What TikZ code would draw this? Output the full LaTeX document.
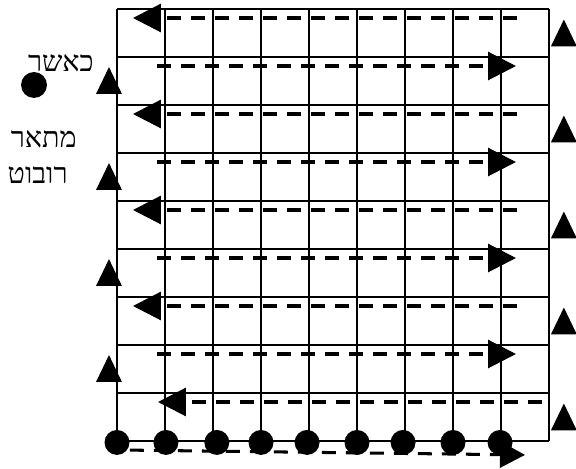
\documentclass[tikz,border=0pt]{standalone}
\usepackage{fontspec}
\newfontfamily\hebfont[Script=Hebrew]{Liberation Serif}
\TeXXeTstate=1
\usetikzlibrary{arrows.meta}

\tikzset{
  gridline/.style={line width=1.2pt},
  dashrow/.style={line width=1.8pt,dash pattern=on 0.29cm off 0.21cm,
    -{Triangle[length=0.58cm,width=0.58cm]}},
  heblabel/.style={inner sep=0pt,anchor=base east,
    font=\hebfont\fontsize{17}{20}\selectfont}
}

\begin{document}
\begin{tikzpicture}
\useasboundingbox (-2.4375,-0.5833) rectangle (9.5625,9.1875);
\newcommand{\TriHalf}{0.27}
\newcommand{\UpTri}[3]{\fill (#1-\TriHalf,#2) -- (#1+\TriHalf,#2) -- (#1,#3) -- cycle;}

% board
\draw[gridline] (0,0) grid (9,9);

% sweeps to the left
\foreach \j in {8,6,4,2} {
  \coordinate (LS\j) at (8.333,\j+0.8125);
  \coordinate (LE\j) at (0.333,\j+0.8125);
  \draw[dashrow] (LS\j) -- (LE\j);
}
\coordinate (LS0) at (8.854,0.8125);
\coordinate (LE0) at (0.854,0.8125);
\draw[dashrow] (LS0) -- (LE0);

% sweeps to the right
\foreach \j in {7,5,3,1} {
  \coordinate (RS\j) at (0.833,\j+0.8125);
  \coordinate (RE\j) at (8.3125,\j+0.8125);
  \draw[dashrow] (RS\j) -- (RE\j);
}

% return path under the board
\coordinate (BS) at (0.27,-0.19);
\coordinate (BE) at (8.5,-0.29);
\draw[line width=1.8pt,dash pattern=on 0.29cm off 0.21cm,
  -{Triangle[length=0.52cm,width=0.54cm]}] (BS) -- (BE);

% steps up, both sides
\foreach \j in {0,1,2,3} {\UpTri{-0.167}{2*\j+1.23}{2*\j+1.79}}
\foreach \j in {0,1,2,3,4} {\UpTri{9.31}{2*\j+0.22}{2*\j+0.78}}

% robots
\foreach \x in {0,1.02,2.08,3.0,3.96,5.0,5.96,7.0,7.98}
  \fill (\x,-0.03) circle (0.26);

% legend
\fill (-1.729,7.417) circle (0.27);
\node[heblabel] (when) at (-0.479,7.6875) {\beginR כאשר\endR};
\node[heblabel] (shows) at (-0.833,6.125) {\beginR מתאר\endR};
\node[heblabel] (robot) at (-1.021,5.375) {\beginR רובוט\endR};

\end{tikzpicture}
\end{document}
